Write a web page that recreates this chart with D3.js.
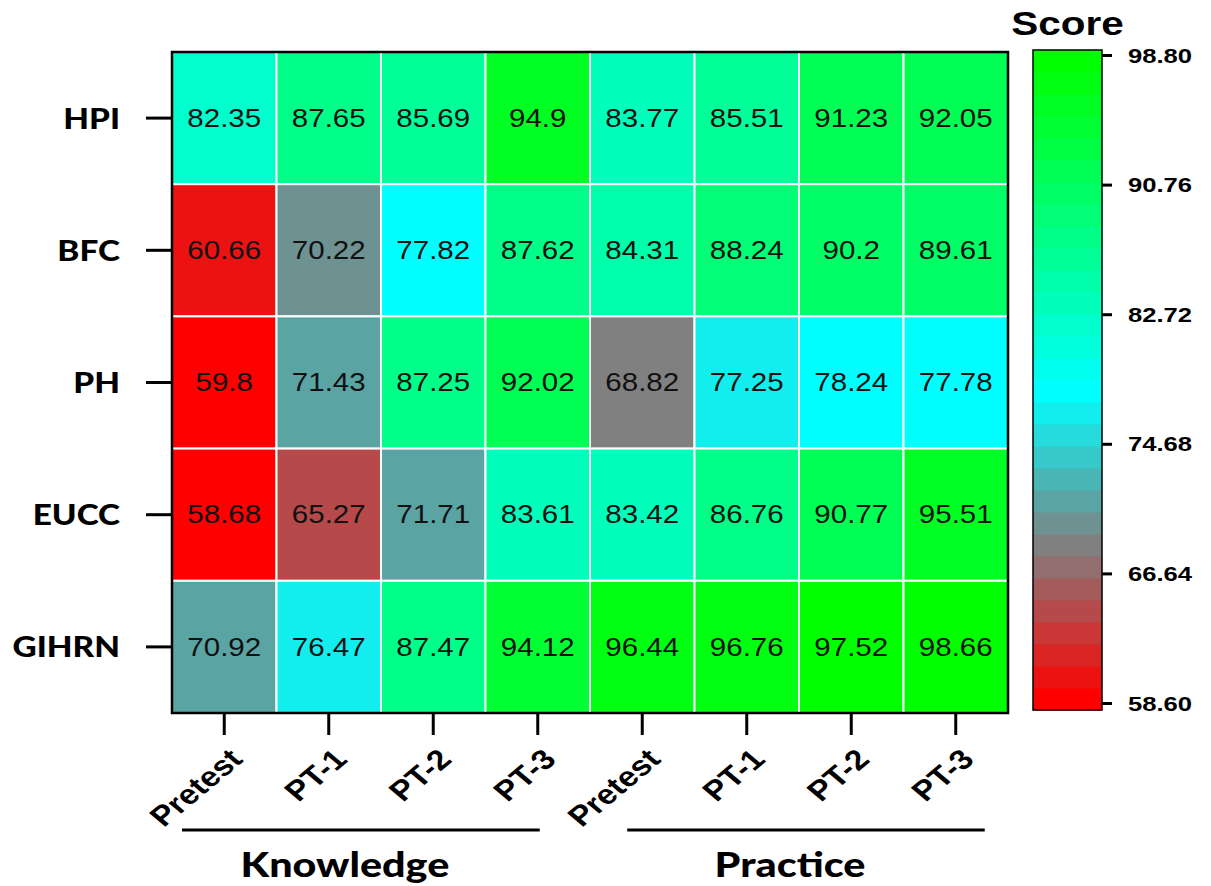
<!DOCTYPE html>
<html>
<head>
<meta charset="utf-8">
<script src="https://cdn.jsdelivr.net/npm/d3@7"></script>
<style>
  html, body { margin: 0; padding: 0; background: #fff; }
  svg { display: block; }
</style>
</head>
<body>
<script>
// Indicators (rows) and assessment phases (columns)
const indicators = ["HPI", "BFC", "PH", "EUCC", "GIHRN"];
const phases = ["Pretest", "PT-1", "PT-2", "PT-3", "Pretest", "PT-1", "PT-2", "PT-3"];
const groups = ["Knowledge", "Practice"];
const groupOfColumn = [0, 0, 0, 0, 1, 1, 1, 1];

// Scores per indicator: Knowledge (Pretest, PT-1..3) then Practice (Pretest, PT-1..3)
const hpi   = [82.35, 87.65, 85.69, 94.9,  83.77, 85.51, 91.23, 92.05];
const bfc   = [60.66, 70.22, 77.82, 87.62, 84.31, 88.24, 90.2,  89.61];
const ph    = [59.8,  71.43, 87.25, 92.02, 68.82, 77.25, 78.24, 77.78];
const eucc  = [58.68, 65.27, 71.71, 83.61, 83.42, 86.76, 90.77, 95.51];
const gihrn = [70.92, 76.47, 87.47, 94.12, 96.44, 96.76, 97.52, 98.66];
const scores = [hpi, bfc, ph, eucc, gihrn];

// Colour-bar range and tick labels
const scoreMin = 58.60, scoreMax = 98.80;
const scoreTicks = [58.60, 66.64, 74.68, 82.72, 90.76, 98.80];
const levelCount = 30;

const W = 1211, H = 886;
const svg = d3.select("body").append("svg").attr("width", W).attr("height", H);

// Stepped palette: red -> grey -> cyan -> green over 30 levels
const levelRamp = d3.scaleLinear()
  .domain([0, 7, 14, levelCount - 1])
  .range(["#ff0000", "#808080", "#00ffff", "#00ff00"])
  .interpolate(d3.interpolateRgb);
const color = d3.scaleQuantize()
  .domain([scoreMin, scoreMax])
  .range(d3.range(levelCount).map(i => levelRamp(i)));

const x = d3.scaleBand().domain(d3.range(phases.length)).range([172, 1008]);
const y = d3.scaleBand().domain(indicators).range([52, 713]);
const bw = x.bandwidth(), bh = y.bandwidth();

const cells = indicators.flatMap((name, ri) =>
  scores[ri].map((v, ci) => ({ name, ci, v })));

// Heatmap cells
const plot = svg.append("g");
plot.selectAll("rect.cell").data(cells).join("rect")
  .attr("class", "cell")
  .attr("x", d => x(d.ci))
  .attr("y", d => y(d.name))
  .attr("width", bw)
  .attr("height", bh)
  .attr("fill", d => color(d.v))
  .attr("stroke", "#fff")
  .attr("stroke-width", 2);

plot.selectAll("g.val").data(cells).join("g")
  .attr("class", "val")
  .attr("transform", d => `translate(${x(d.ci) + bw / 2},${y(d.name) + bh / 2}) scale(1.18,1)`)
  .append("text")
  .attr("text-anchor", "middle")
  .attr("dominant-baseline", "central")
  .attr("font-family", "'Liberation Sans', Arial, sans-serif")
  .attr("font-size", 25)
  .attr("fill", "#111")
  .text(d => String(d.v));

// Frame
svg.append("rect")
  .attr("x", x.range()[0]).attr("y", y.range()[0])
  .attr("width", x.range()[1] - x.range()[0])
  .attr("height", y.range()[1] - y.range()[0])
  .attr("fill", "none").attr("stroke", "#000").attr("stroke-width", 2.5);

// Row axis
const yAxis = svg.append("g")
  .attr("transform", `translate(${x.range()[0]},0)`)
  .call(d3.axisLeft(y).tickSize(26).tickPadding(27));
yAxis.select(".domain").remove();
yAxis.selectAll(".tick line").attr("stroke", "#000").attr("stroke-width", 3);
yAxis.selectAll(".tick text")
  .attr("x", 0).attr("dy", null)
  .attr("dominant-baseline", "central")
  .attr("transform", "translate(-52,0) scale(1.19,1)")
  .attr("text-anchor", "end")
  .attr("font-family", "Lato, 'Open Sans', sans-serif")
  .attr("font-weight", 900)
  .attr("font-size", 28)
  .attr("fill", "#000");

// Column axis
const xAxis = svg.append("g")
  .attr("transform", `translate(0,${y.range()[1]})`)
  .call(d3.axisBottom(x).tickSize(22).tickFormat(i => phases[i]));
xAxis.select(".domain").remove();
xAxis.selectAll(".tick line").attr("stroke", "#000").attr("stroke-width", 3);
xAxis.selectAll(".tick text")
  .attr("x", 0).attr("y", 0).attr("dy", null)
  .attr("text-anchor", "end")
  .attr("transform", "translate(20,48) scale(1.2,1) rotate(-45)")
  .attr("font-family", "'Liberation Sans', Arial, sans-serif")
  .attr("font-weight", 700)
  .attr("font-size", 28)
  .attr("fill", "#000");

// Group brackets under the phase labels
const groupSpans = groups.map((g, gi) => {
  const cols = d3.range(phases.length).filter(i => groupOfColumn[i] === gi);
  const first = cols[0], last = cols[cols.length - 1];
  return gi === 0
    ? { g, x1: x(first) + 10, x2: x(last) + bw / 2 + 2 }
    : { g, x1: x(first) + bw / 2 - 15, x2: x(last) + bw / 2 + 29 };
});
const brackets = svg.append("g");
brackets.selectAll("line").data(groupSpans).join("line")
  .attr("x1", d => d.x1).attr("x2", d => d.x2)
  .attr("y1", 830).attr("y2", 830)
  .attr("stroke", "#000").attr("stroke-width", 3);
brackets.selectAll("g.glabel").data(groupSpans).join("g")
  .attr("class", "glabel")
  .attr("transform", d => `translate(${(d.x1 + d.x2) / 2 - 16},877) scale(1.18,1)`)
  .append("text")
  .attr("text-anchor", "middle")
  .attr("font-family", "Lato, 'Open Sans', sans-serif")
  .attr("font-weight", 900)
  .attr("font-size", 35)
  .attr("fill", "#000")
  .text(d => d.g);

// Colour bar
const cbX = 1033, cbW = 69;
const cbBand = d3.scaleLinear().domain([scoreMin, scoreMax]).range([710, 50]);
const cbAxisScale = d3.scaleLinear().domain([scoreMin, scoreMax]).range([703, 55]);
const cb = svg.append("g");
cb.selectAll("rect.level").data(color.range()).join("rect")
  .attr("class", "level")
  .attr("x", cbX)
  .attr("width", cbW)
  .attr("y", c => cbBand(color.invertExtent(c)[1]))
  .attr("height", c => cbBand(color.invertExtent(c)[0]) - cbBand(color.invertExtent(c)[1]) + 0.5)
  .attr("fill", c => c);
cb.append("rect")
  .attr("x", cbX).attr("y", cbBand(scoreMax))
  .attr("width", cbW).attr("height", cbBand(scoreMin) - cbBand(scoreMax))
  .attr("fill", "none").attr("stroke", "#000").attr("stroke-width", 1.5);

const cbAxis = svg.append("g")
  .attr("transform", `translate(${cbX + cbW},0)`)
  .call(d3.axisRight(cbAxisScale).tickValues(scoreTicks).tickSize(10).tickFormat(d3.format(".2f")));
cbAxis.select(".domain").remove();
cbAxis.selectAll(".tick line").attr("stroke", "#000").attr("stroke-width", 3);
cbAxis.selectAll(".tick text")
  .attr("x", 0).attr("dy", null)
  .attr("dominant-baseline", "central")
  .attr("transform", "translate(26,0) scale(1.22,1)")
  .attr("text-anchor", "start")
  .attr("font-family", "'Liberation Sans', Arial, sans-serif")
  .attr("font-weight", 700)
  .attr("font-size", 21)
  .attr("fill", "#000");

svg.append("g")
  .attr("transform", `translate(${cbX + cbW / 2},35) scale(1.19,1)`)
  .append("text")
  .attr("text-anchor", "middle")
  .attr("font-family", "'Liberation Sans', Arial, sans-serif")
  .attr("font-weight", 700)
  .attr("font-size", 34)
  .attr("fill", "#000")
  .text("Score");
</script>
</body>
</html>
